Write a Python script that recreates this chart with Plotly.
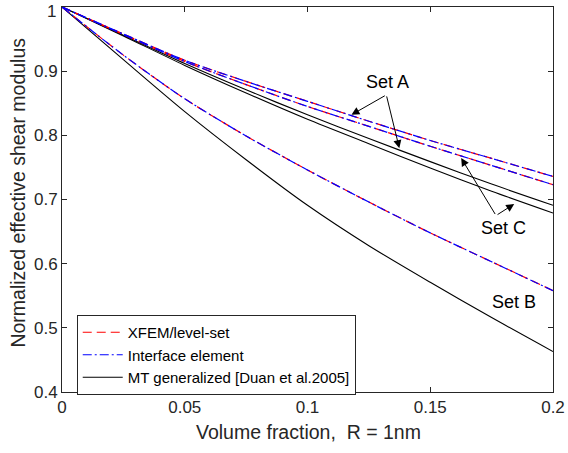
import plotly.graph_objects as go

# ---------------- data ----------------
volume_fraction = [0, 0.025, 0.05, 0.075, 0.1, 0.125, 0.15, 0.175, 0.2]

setA_xfem      = [1, 0.958, 0.917, 0.884, 0.853, 0.822, 0.792, 0.764, 0.736]
setA_interface = [1, 0.958, 0.917, 0.884, 0.853, 0.822, 0.792, 0.764, 0.736]
setA_mt        = [1, 0.956, 0.912, 0.871, 0.832, 0.795, 0.759, 0.724, 0.691]

setC_xfem      = [1, 0.957, 0.915, 0.879, 0.845, 0.814, 0.783, 0.753, 0.723]
setC_interface = [1, 0.957, 0.915, 0.879, 0.845, 0.814, 0.783, 0.753, 0.723]
setC_mt        = [1, 0.955, 0.909, 0.866, 0.825, 0.787, 0.749, 0.713, 0.679]

setB_xfem      = [1, 0.925, 0.857, 0.799, 0.746, 0.696, 0.648, 0.603, 0.558]
setB_interface = [1, 0.925, 0.857, 0.799, 0.746, 0.696, 0.648, 0.603, 0.558]
setB_mt        = [1, 0.918, 0.837, 0.762, 0.691, 0.628, 0.571, 0.516, 0.463]

x_ticks = [0, 0.05, 0.1, 0.15, 0.2]
x_ticklabels = ["0", "0.05", "0.1", "0.15", "0.2"]
y_ticks = [0.4, 0.5, 0.6, 0.7, 0.8, 0.9, 1.0]
y_ticklabels = ["0.4", "0.5", "0.6", "0.7", "0.8", "0.9", "1"]

legend_names = ["XFEM/level-set", "Interface element", "MT generalized [Duan et al.2005]"]
x_title = "Volume fraction,  R = 1nm"
y_title = "Normalized effective shear modulus"

# ---------------- figure ----------------
FONT = "Liberation Sans, Arial, sans-serif"
AXC = "#262626"

fig = go.Figure()

styles = {
    "xfem": dict(color="red", width=1.2, dash="9px,5px"),
    "interface": dict(color="blue", width=1.2, dash="9px,3px,2px,3px"),
    "mt": dict(color="black", width=1.1),
}

sets = [
    (setA_xfem, setA_interface, setA_mt),
    (setC_xfem, setC_interface, setC_mt),
    (setB_xfem, setB_interface, setB_mt),
]

for i, (_, _, mt) in enumerate(sets):
    fig.add_trace(go.Scatter(x=volume_fraction, y=mt, mode="lines",
                             line=dict(**styles["mt"], shape="spline", smoothing=0.8),
                             name=legend_names[2], legendgroup="mt",
                             showlegend=(i == 0), legendrank=3))
for i, (xf, _, _) in enumerate(sets):
    fig.add_trace(go.Scatter(x=volume_fraction, y=xf, mode="lines",
                             line=dict(**styles["xfem"], shape="spline", smoothing=0.8),
                             name=legend_names[0], legendgroup="xfem",
                             showlegend=(i == 0), legendrank=1))
for i, (_, ie, _) in enumerate(sets):
    fig.add_trace(go.Scatter(x=volume_fraction, y=ie, mode="lines",
                             line=dict(**styles["interface"], shape="spline", smoothing=0.8),
                             name=legend_names[1], legendgroup="ie",
                             showlegend=(i == 0), legendrank=2))

# ---------------- annotations ----------------
labels = [
    ("Set A", 0.1325, 0.883),
    ("Set C", 0.180, 0.655),
    ("Set B", 0.1842, 0.541),
]
for txt, lx, ly in labels:
    fig.add_annotation(x=lx, y=ly, xref="x", yref="y", text=txt, showarrow=False,
                       font=dict(family=FONT, size=18, color="black"))

arrows = [
    # (tail x, tail y, tip x, tip y)
    (0.1321, 0.863, 0.1179, 0.832),
    (0.1321, 0.863, 0.1374, 0.780),
    (0.1768, 0.675, 0.1626, 0.7645),
    (0.1768, 0.675, 0.1842, 0.693),
]
for tx, ty, hx, hy in arrows:
    fig.add_annotation(x=hx, y=hy, ax=tx, ay=ty, xref="x", yref="y",
                       axref="x", ayref="y", text="", showarrow=True,
                       arrowhead=2, arrowsize=1.6, arrowwidth=1, arrowcolor="black",
                       standoff=0, startstandoff=0)

# axis titles as paper annotations for exact placement
fig.add_annotation(x=0.503, y=-0.103, xref="paper", yref="paper", text=x_title,
                   showarrow=False, xanchor="center", yanchor="middle",
                   font=dict(family=FONT, size=19.5, color=AXC))
fig.add_annotation(x=-0.0896, y=0.518, xref="paper", yref="paper", text=y_title,
                   showarrow=False, xanchor="center", yanchor="middle", textangle=-90,
                   font=dict(family=FONT, size=19.5, color=AXC))

# top y tick label drawn as annotation so it is not clipped at the page edge
y_tick_text_axis = y_ticklabels[:-1] + [""]
fig.add_annotation(x=0, y=y_ticks[-1], xref="paper", yref="y", text=y_ticklabels[-1],
                   showarrow=False, xanchor="right", yanchor="middle",
                   xshift=-4, yshift=-4,
                   font=dict(family=FONT, size=17, color=AXC))

axis_common = dict(
    showline=True, linecolor=AXC, linewidth=1, mirror="ticks",
    ticks="inside", ticklen=5, tickcolor=AXC, tickwidth=1,
    showgrid=False, zeroline=False, automargin=False,
    ticklabeloverflow="allow",
    tickfont=dict(family=FONT, size=17, color=AXC),
)

fig.update_layout(
    width=568, height=453,
    margin=dict(l=62, r=15, t=7, b=61),
    paper_bgcolor="white", plot_bgcolor="white",
    font=dict(family=FONT, color=AXC),
    xaxis=dict(range=[0, 0.2], tickvals=x_ticks, ticktext=x_ticklabels,
               **axis_common),
    yaxis=dict(range=[0.4, 1.0], tickvals=y_ticks, ticktext=y_tick_text_axis,
               **axis_common),
    legend=dict(x=0.03, y=0.2, xanchor="left", yanchor="top",
                bgcolor="white", bordercolor=AXC, borderwidth=1,
                font=dict(family=FONT, size=15, color="black"),
                tracegroupgap=0, itemwidth=40),
    showlegend=True,
)

fig.write_html("out.html", config={"displayModeBar": False},
               post_script="document.body.style.margin='0px';document.body.style.overflow='hidden';")
